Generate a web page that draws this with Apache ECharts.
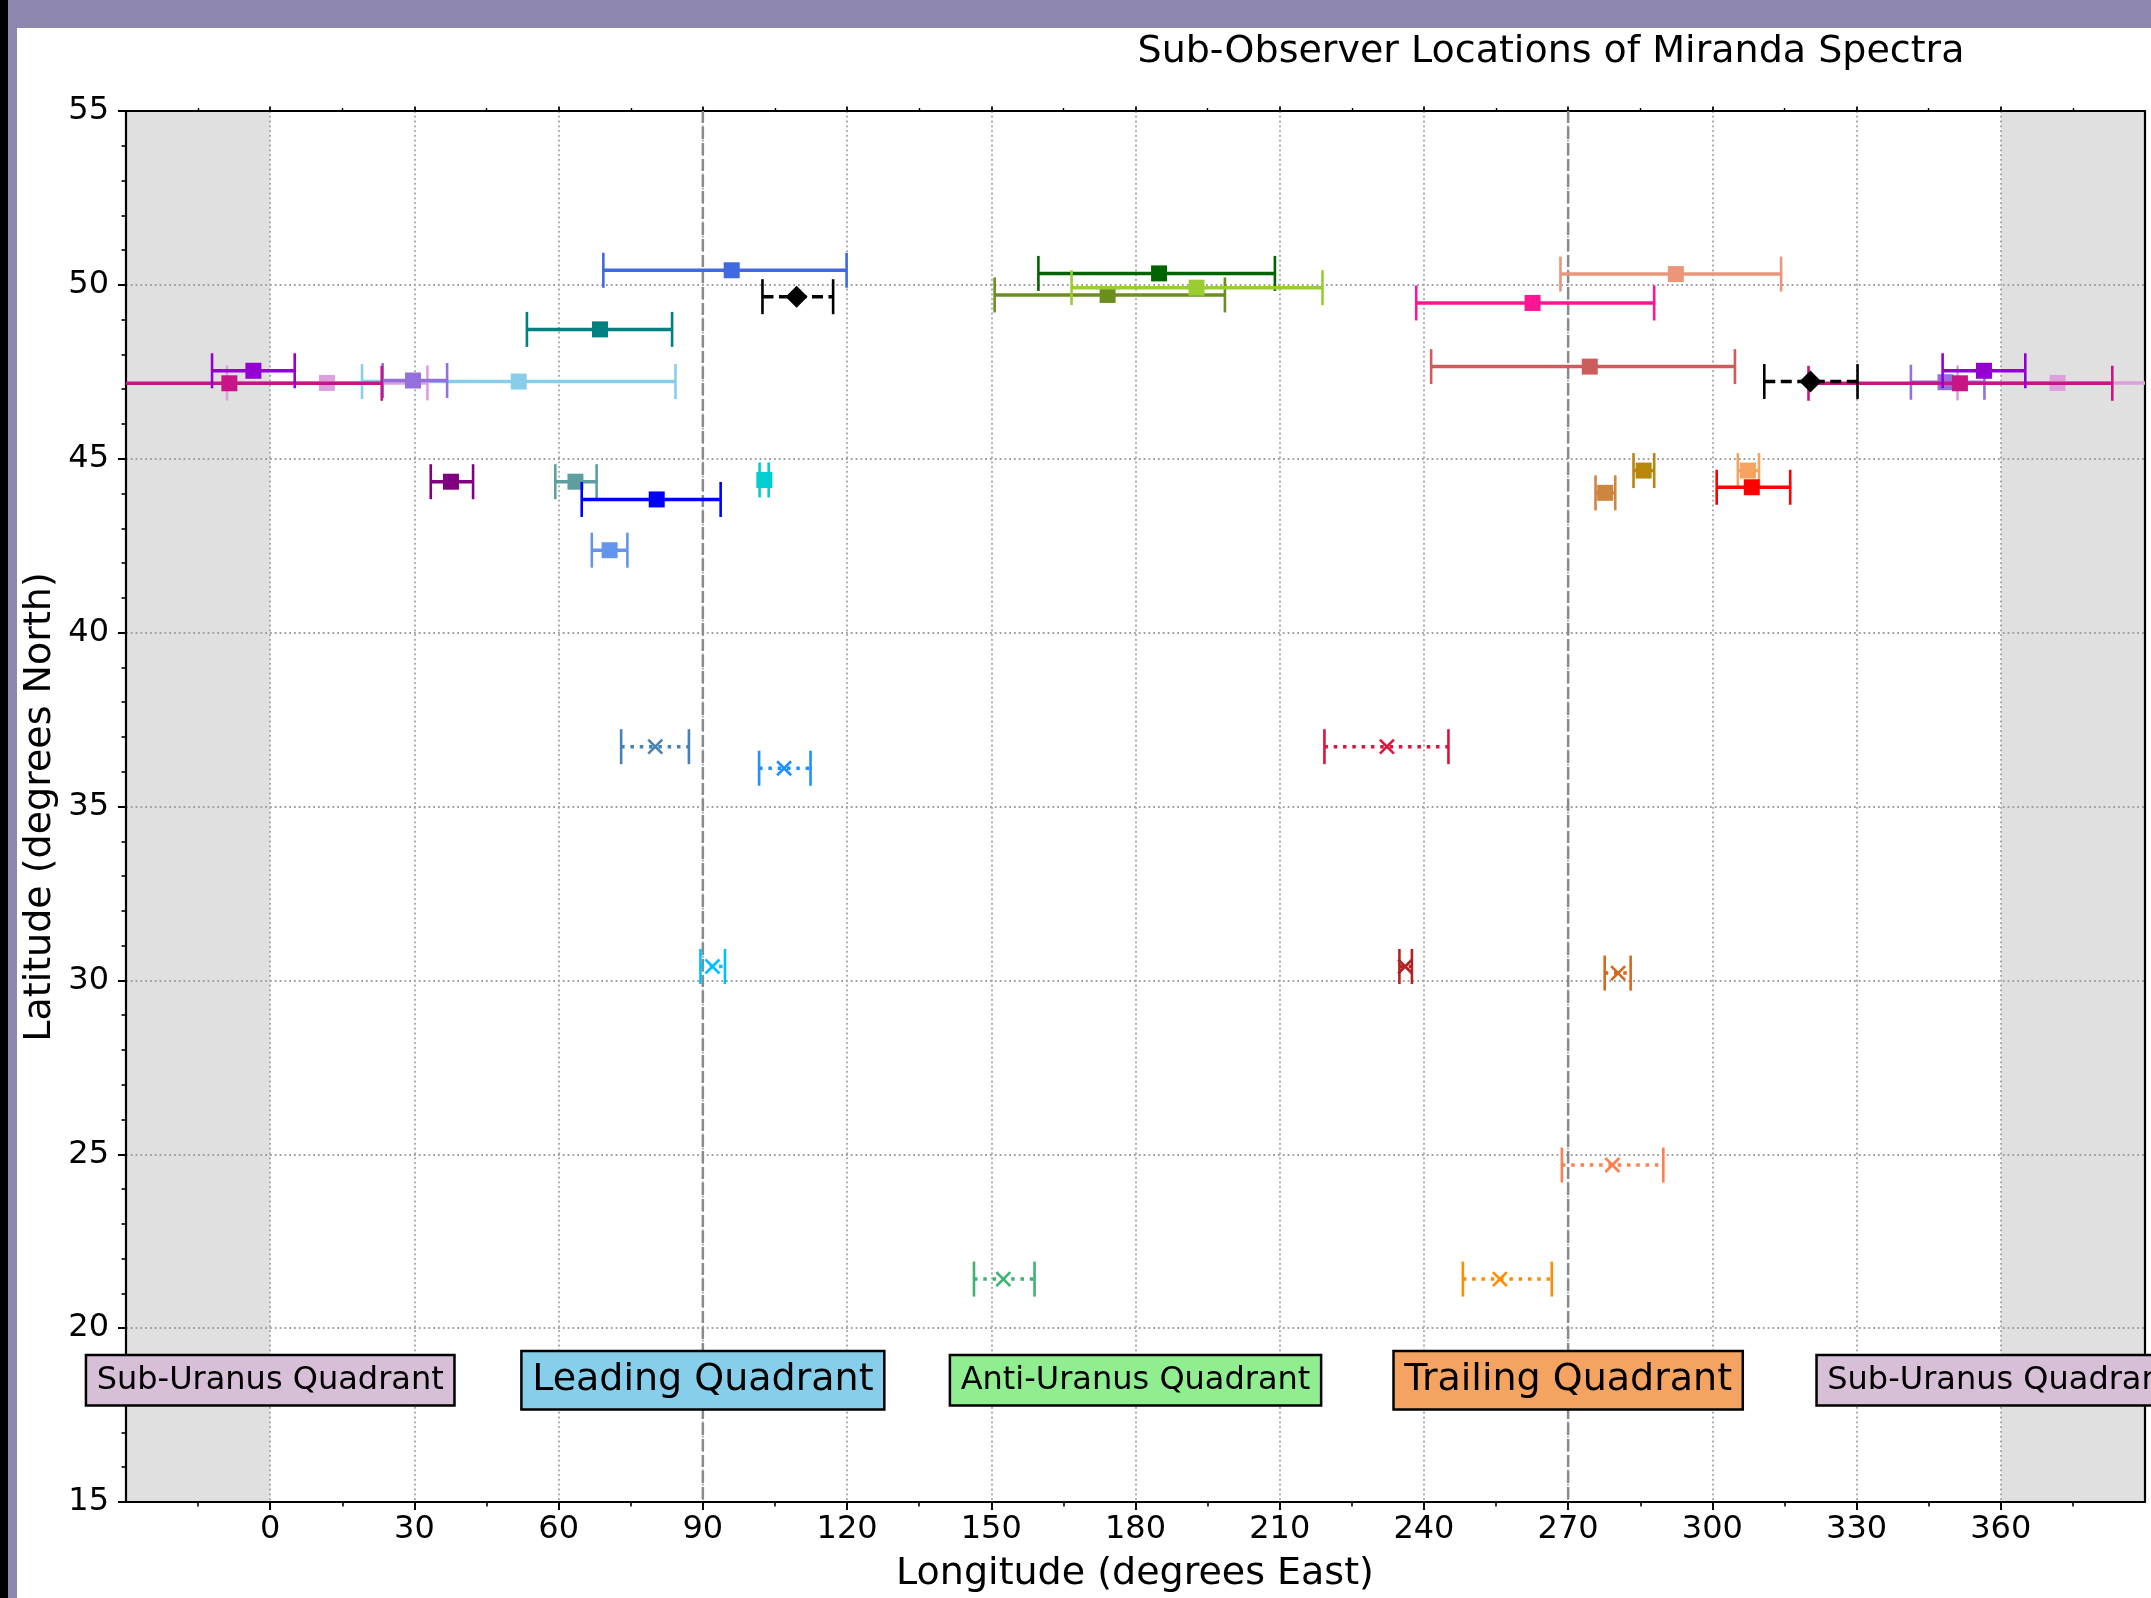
<!DOCTYPE html>
<html>
<head>
<meta charset="utf-8">
<title>Sub-Observer Locations of Miranda Spectra</title>
<script src="https://cdn.jsdelivr.net/npm/echarts@6/dist/echarts.min.js"></script>
<style>
  html, body { margin: 0; padding: 0; background: #ffffff; overflow: hidden; }
  #chart { position: absolute; left: 0; top: 0; width: 2151px; height: 1598px; }
  .frame { position: absolute; z-index: 5; }
  #frameTop { left: 8px; top: 0; width: 2143px; height: 28px; background: #8e88b0; }
  #frameDark { left: 0; top: 0; width: 8px; height: 1598px; background: #000000; }
  #frameSide { left: 8px; top: 0; width: 9px; height: 1598px; background: #8e88b0; }
</style>
</head>
<body>
<div id="chart"></div>
<div class="frame" id="frameTop"></div>
<div class="frame" id="frameDark"></div>
<div class="frame" id="frameSide"></div>
<script>
// ---- observations: sub-observer longitude (with start/end range) and latitude ----
const obsColor = [
  '#4169E1', '#008080', '#87CEEB', '#DDA0DD', '#9370DB', '#9370DB', '#C71585', '#9400D3',
  '#006400', '#6B8E23', '#9ACD32', '#E9967A', '#FF1493', '#CD5C5C',
  '#800080', '#5F9EA0', '#0000FF', '#6495ED', '#00CED1',
  '#B8860B', '#CD853F', '#F4A460', '#FF0000',
  '#000000', '#000000',
  '#4682B4', '#1E90FF', '#DC143C', '#00BFFF', '#B22222', '#D2691E', '#FF7F50', '#3CB371', '#FF8C00'
];
const obsMarker = [
  'square', 'square', 'square', 'square', 'square', 'square', 'square', 'square',
  'square', 'square', 'square', 'square', 'square', 'square',
  'square', 'square', 'square', 'square', 'square',
  'square', 'square', 'square', 'square',
  'diamond', 'diamond',
  'cross', 'cross', 'cross', 'cross', 'cross', 'cross', 'cross', 'cross', 'cross'
];
const obsLon = [
  96.0, 68.6, 51.7, 11.8, 29.7, 348.5, 351.5, 356.5,
  184.9, 174.2, 192.7, 292.4, 262.6, 274.5,
  37.6, 63.5, 80.4, 70.6, 102.8,
  285.7, 277.7, 307.4, 308.2,
  109.5, 320.4,
  80.1, 106.9, 232.3, 92.0, 236.1, 280.4, 279.2, 152.5, 255.8
];
const obsLonLow = [
  69.3, 53.4, 19.1, -9.0, 23.4, 341.3, 320.0, 347.9,
  159.8, 150.7, 166.7, 268.4, 238.4, 241.5,
  33.4, 59.3, 64.8, 66.9, 101.8,
  283.6, 275.7, 305.3, 300.9,
  102.4, 310.8,
  73.0, 101.7, 219.3, 89.5, 234.9, 277.6, 268.7, 146.4, 248.1
];
const obsLonHigh = [
  119.9, 83.6, 84.3, 32.7, 36.8, 356.6, 383.2, 365.1,
  209.0, 198.6, 218.9, 314.3, 287.9, 304.7,
  42.2, 67.9, 93.7, 74.3, 103.7,
  287.9, 279.8, 309.7, 316.2,
  117.1, 330.2,
  87.1, 112.4, 245.1, 94.6, 237.5, 283.0, 289.8, 159.0, 266.6
];
const obsLat = [
  50.42, 48.72, 47.22, 47.18, 47.25, 47.20, 47.17, 47.53,
  50.33, 49.71, 49.92, 50.31, 49.48, 47.65,
  44.34, 44.34, 43.83, 42.37, 44.39,
  44.66, 44.02, 44.66, 44.18,
  49.66, 47.22,
  36.72, 36.10, 36.72, 30.40, 30.40, 30.21, 24.69, 21.41, 21.41
];

// ---- axes ----
const lonTickLabels = [0, 30, 60, 90, 120, 150, 180, 210, 240, 270, 300, 330, 360];
const latTickLabels = [15, 20, 25, 30, 35, 40, 45, 50, 55];
const lonRange = [-30, 390];
const latRange = [15, 55];

// ---- longitude quadrants ----
const quadrantNames = ['Sub-Uranus Quadrant', 'Leading Quadrant', 'Anti-Uranus Quadrant', 'Trailing Quadrant', 'Sub-Uranus Quadrant'];
const quadrantLon = [0, 90, 180, 270, 360];
const quadrantLat = [18.5, 18.5, 18.5, 18.5, 18.5];
const quadrantFill = ['#D8BFD8', '#87CEEB', '#90EE90', '#F4A460', '#D8BFD8'];
const quadrantEmphasis = [false, true, false, true, false];
const quadrantBoundaries = [90, 270];
const wrapBands = [[-30, 0], [360, 390]];

const FONT = '"DejaVu Sans", "Liberation Sans", sans-serif';

// Each observation is drawn at its longitude; ranges that cross 0/360
// are repeated one revolution over so they show on both edges.
const obsMarks = [];
obsLon.forEach((lon, i) => {
  const lo = obsLonLow[i], hi = obsLonHigh[i], lat = obsLat[i];
  obsMarks.push([lon, lo, hi, lat, i]);
  if (lo < 0) obsMarks.push([lon + 360, lo + 360, hi + 360, lat, i]);
  if (hi > 360) obsMarks.push([lon - 360, lo - 360, hi - 360, lat, i]);
});

const CAP = 17.5;

function renderObs(params, api) {
  const i = api.value(4);
  const color = obsColor[i];
  const kind = obsMarker[i];
  const lat = api.value(3);
  const c = api.coord([api.value(0), lat]);
  const lo = api.coord([api.value(1), lat]);
  const hi = api.coord([api.value(2), lat]);
  const dash = kind === 'diamond' ? [11, 5.5] : (kind === 'cross' ? [3.5, 5.8] : null);
  const children = [
    { type: 'line', shape: { x1: lo[0], y1: lo[1], x2: hi[0], y2: hi[1] },
      style: { stroke: color, lineWidth: 3.5, lineDash: dash, lineCap: 'butt' } },
    { type: 'line', shape: { x1: lo[0], y1: lo[1] - CAP, x2: lo[0], y2: lo[1] + CAP },
      style: { stroke: color, lineWidth: 2.6 } },
    { type: 'line', shape: { x1: hi[0], y1: hi[1] - CAP, x2: hi[0], y2: hi[1] + CAP },
      style: { stroke: color, lineWidth: 2.6 } }
  ];
  if (kind === 'square') {
    children.push({ type: 'rect', shape: { x: c[0] - 8, y: c[1] - 8, width: 16, height: 16 },
      style: { fill: color } });
  } else if (kind === 'diamond') {
    children.push({ type: 'polygon',
      shape: { points: [[c[0], c[1] - 11], [c[0] + 11, c[1]], [c[0], c[1] + 11], [c[0] - 11, c[1]]] },
      style: { fill: color } });
  } else {
    const r = 7;
    children.push({ type: 'line', shape: { x1: c[0] - r, y1: c[1] - r, x2: c[0] + r, y2: c[1] + r },
      style: { stroke: color, lineWidth: 2.6 } });
    children.push({ type: 'line', shape: { x1: c[0] - r, y1: c[1] + r, x2: c[0] + r, y2: c[1] - r },
      style: { stroke: color, lineWidth: 2.6 } });
  }
  return { type: 'group', children };
}

function renderBand(params, api) {
  const a = api.coord([api.value(0), latRange[1]]);
  const b = api.coord([api.value(1), latRange[0]]);
  return { type: 'rect', shape: { x: a[0], y: a[1], width: b[0] - a[0], height: b[1] - a[1] },
    style: { fill: '#e0e0e0' } };
}

function renderBoundary(params, api) {
  const a = api.coord([api.value(0), latRange[1]]);
  const b = api.coord([api.value(0), latRange[0]]);
  return { type: 'line', shape: { x1: a[0], y1: a[1], x2: b[0], y2: b[1] },
    style: { stroke: '#8a8a8a', lineWidth: 2.5, lineDash: [12, 4] } };
}

function renderQuadrant(params, api) {
  const i = params.dataIndex;
  const p = api.coord([api.value(0), api.value(1)]);
  const big = quadrantEmphasis[i];
  const fs = big ? 38 : 32;
  return {
    type: 'text', x: p[0], y: p[1],
    style: {
      text: quadrantNames[i],
      font: fs + 'px ' + FONT,
      fill: '#000000',
      align: 'center', verticalAlign: 'middle',
      lineHeight: fs,
      backgroundColor: quadrantFill[i],
      borderColor: '#000000', borderWidth: 2.5,
      padding: [big ? 9 : 8, 9.5]
    }
  };
}

const gridDots = { color: '#a0a0a0', width: 1.8, type: [1.8, 3] };

const chart = echarts.init(document.getElementById('chart'), null, { renderer: 'canvas' });
chart.setOption({
  animation: false,
  backgroundColor: 'transparent',
  grid: { left: 126, right: 6, top: 111, bottom: 96, containLabel: false },
  xAxis: [
    {
      type: 'value', position: 'bottom', min: lonRange[0], max: lonRange[1], interval: 30, z: 3,
      axisLine: { show: true, onZero: false, lineStyle: { color: '#000', width: 2.2 } },
      axisTick: { show: true, length: 8, lineStyle: { color: '#000', width: 2 }, customValues: lonTickLabels },
      minorTick: { show: true, splitNumber: 2, length: 4.5, lineStyle: { color: '#000', width: 1.6 } },
      axisLabel: { show: true, customValues: lonTickLabels, margin: 12, color: '#000', fontSize: 32, fontFamily: FONT },
      splitLine: { show: true, lineStyle: gridDots }
    },
    {
      type: 'value', position: 'top', min: lonRange[0], max: lonRange[1], interval: 30, z: 3,
      axisLine: { show: true, onZero: false, lineStyle: { color: '#000', width: 2.2 } },
      axisTick: { show: true, length: 4.5, lineStyle: { color: '#000', width: 1.8 }, customValues: lonTickLabels },
      minorTick: { show: true, splitNumber: 2, length: 3, lineStyle: { color: '#000', width: 1.4 } },
      axisLabel: { show: false },
      splitLine: { show: false }
    }
  ],
  yAxis: [
    {
      type: 'value', position: 'left', min: latRange[0], max: latRange[1], interval: 5, z: 3,
      axisLine: { show: true, onZero: false, lineStyle: { color: '#000', width: 2.2 } },
      axisTick: { show: true, length: 8, lineStyle: { color: '#000', width: 2 } },
      minorTick: { show: true, splitNumber: 5, length: 4.5, lineStyle: { color: '#000', width: 1.6 } },
      axisLabel: { show: true, margin: 17, color: '#000', fontSize: 32, fontFamily: FONT,
        formatter: v => (latTickLabels.indexOf(v) >= 0 ? String(v) : '') },
      splitLine: { show: true, lineStyle: gridDots }
    },
    {
      type: 'value', position: 'right', min: latRange[0], max: latRange[1], interval: 5, z: 3,
      axisLine: { show: true, onZero: false, lineStyle: { color: '#000', width: 2.2 } },
      axisTick: { show: false }, axisLabel: { show: false }, splitLine: { show: false }
    }
  ],
  graphic: [
    { type: 'text', x: 1551, y: 52, z: 20,
      style: { text: 'Sub-Observer Locations of Miranda Spectra', font: '38px ' + FONT, fill: '#000',
        align: 'center', verticalAlign: 'middle' } },
    { type: 'text', x: 1135, y: 1574, z: 20,
      style: { text: 'Longitude (degrees East)', font: '38px ' + FONT, fill: '#000',
        align: 'center', verticalAlign: 'middle' } },
    { type: 'text', x: 40, y: 807, rotation: Math.PI / 2, z: 20,
      style: { text: 'Latitude (degrees North)', font: '38px ' + FONT, fill: '#000',
        align: 'center', verticalAlign: 'middle' } }
  ],
  series: [
    { type: 'custom', name: 'wrap', xAxisIndex: 0, yAxisIndex: 0, z: 1, clip: true,
      renderItem: renderBand, data: wrapBands },
    { type: 'custom', name: 'boundaries', xAxisIndex: 0, yAxisIndex: 0, z: 4, clip: true,
      renderItem: renderBoundary, data: quadrantBoundaries.map(v => [v]) },
    { type: 'custom', name: 'observations', xAxisIndex: 0, yAxisIndex: 0, z: 10, clip: true,
      renderItem: renderObs, data: obsMarks },
    { type: 'custom', name: 'quadrants', xAxisIndex: 0, yAxisIndex: 0, z: 12, clip: false,
      renderItem: renderQuadrant, data: quadrantLon.map((v, i) => [v, quadrantLat[i]]) }
  ]
});
</script>
</body>
</html>
